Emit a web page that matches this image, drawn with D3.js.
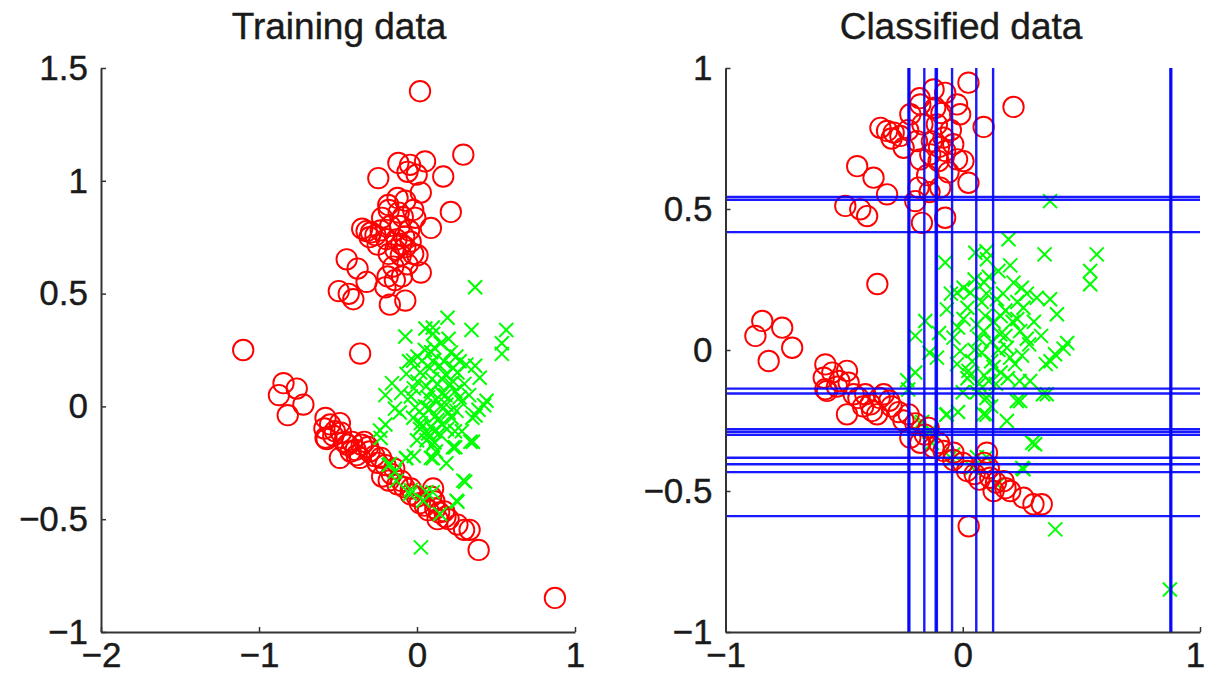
<!DOCTYPE html>
<html>
<head>
<meta charset="utf-8">
<script src="https://cdn.jsdelivr.net/npm/d3@7"></script>
<style>
  body { margin: 0; background: #fff; }
  svg { display: block; }
</style>
</head>
<body>
<svg id="chart" width="1206" height="684"></svg>
<script>
'use strict';

// training points, true class "red" (circles)
var redPts = [
  [0.019, 1.397], [0.293, 1.116], [-0.118, 1.079], [-0.044, 1.071], [0.051, 1.086],
  [-0.245, 1.012], [0.166, 1.019], [-0.06, 1.04], [-0.002, 1.027],
  [0.024, 0.948], [0.214, 0.862], [0.088, 0.791], [-0.123, 0.924], [-0.074, 0.912],
  [-0.179, 0.871], [-0.024, 0.871], [-0.011, 0.836], [-0.116, 0.859], [-0.347, 0.788],
  [-0.319, 0.777], [-0.291, 0.771], [-0.263, 0.759], [-0.249, 0.717], [-0.193, 0.741],
  [-0.081, 0.753], [-0.179, 0.676], [-0.137, 0.694], [-0.074, 0.706], [-0.024, 0.676],
  [0.003, 0.670], [-0.102, 0.670], [-0.445, 0.652], [-0.376, 0.611], [-0.319, 0.552],
  [0.024, 0.593], [-0.186, 0.576], [-0.095, 0.576], [-0.495, 0.511], [-0.432, 0.499],
  [-0.403, 0.475], [-0.172, 0.451], [-0.074, 0.469], [-0.2, 0.528], [-0.221, 0.836],
  [-0.109, 0.800], [-0.05, 0.78], [-0.15, 0.62], [-0.06, 0.63], [-0.13, 0.74],
  [-0.17, 0.80], [-0.09, 0.84], [-0.182, 0.893], [-0.3, 0.75], [-0.23, 0.78],
  [-0.1, 0.72], [-0.04, 0.73], [-0.14, 0.56],
  [-1.1, 0.25], [-0.36, 0.234],
  [-0.845, 0.103], [-0.874, 0.050], [-0.761, 0.079], [-0.719, 0.008], [-0.818, -0.039],
  [-0.579, -0.051], [-0.586, -0.098], [-0.579, -0.139], [-0.55, -0.08], [-0.488, -0.074],
  [-0.481, -0.116], [-0.52, -0.11], [-0.488, -0.228], [-0.411, -0.157], [-0.382, -0.216],
  [-0.35, -0.17], [-0.44, -0.17], [-0.572, -0.145], [-0.46, -0.157], [-0.389, -0.193],
  [-0.361, -0.228], [-0.333, -0.157], [-0.31, -0.18], [-0.228, -0.228], [-0.2, -0.26],
  [-0.221, -0.311], [-0.179, -0.329], [-0.144, -0.276], [-0.123, -0.346], [-0.081, -0.358],
  [-0.039, -0.364], [-0.04, -0.39], [0.018, -0.429], [0.102, -0.364], [0.09, -0.40],
  [0.116, -0.453], [0.130, -0.5], [0.172, -0.465], [0.18, -0.49], [0.256, -0.524],
  [0.298, -0.547], [0.333, -0.547], [0.07, -0.46], [-0.3, -0.2], [-0.25, -0.25],
  [-0.16, -0.3], [-0.1, -0.33], [0.0, -0.4], [0.05, -0.44], [0.11, -0.42],
  [0.14, -0.47], [0.2, -0.5], [-0.42, -0.2], [-0.53, -0.13], [-0.27, -0.22]
];

// training points, true class "green" (crosses)
var greenPts = [
  [0.368, 0.528], [0.193, 0.393], [0.345, 0.339], [0.565, 0.339], [0.537, 0.280],
  [0.537, 0.233], [-0.074, 0.310], [0.053, 0.345], [0.102, 0.322], [0.10, 0.35],
  [0.003, 0.221], [0.032, 0.203], [-0.024, 0.203], [0.214, 0.239], [0.249, 0.221],
  [0.27, 0.2], [0.312, 0.185], [0.368, 0.180], [0.397, 0.127], [0.256, 0.150],
  [0.23, 0.11], [0.144, 0.180], [0.095, 0.121], [0.06, 0.09], [0.003, 0.11],
  [-0.067, 0.144], [-0.158, 0.103], [-0.2, 0.05], [-0.109, -0.027], [-0.039, 0.044],
  [-0.011, -0.004], [-0.024, -0.05], [0.024, -0.074], [0.088, 0.067], [0.12, 0.03],
  [0.158, 0.056], [0.186, 0.008], [0.242, 0.067], [0.27, 0.04], [0.2, -0.027],
  [0.12, -0.04], [0.08, -0.01], [0.09, -0.09], [0.02, -0.1], [0.389, -0.015],
  [0.425, 0.005], [0.44, 0.025], [0.37, -0.04], [0.35, -0.05], [0.284, -0.11],
  [0.24, -0.11], [0.338, -0.157], [0.228, -0.181], [0.1, -0.17], [0.1, -0.23],
  [-0.02, -0.22], [-0.07, -0.23], [-0.2, -0.08], [-0.23, -0.14], [-0.14, -0.01],
  [-0.067, -0.228], [0.088, -0.228], [0.11, -0.16], [0.07, -0.12], [0.03, -0.09],
  [0.186, -0.252], [0.242, -0.181], [0.354, -0.157], [0.305, -0.334], [0.256, -0.423],
  [-0.18, -0.26], [-0.13, -0.33], [-0.04, -0.37], [0.1, -0.38],
  [-0.234, -0.107], [-0.171, -0.255], [-0.14, -0.29], [-0.044, -0.388], [0.04, -0.418],
  [0.06, -0.38], [0.146, -0.477], [0.251, -0.418], [0.293, -0.329],
  [0.05, 0.25], [0.15, 0.28], [0.18, 0.14], [0.1, 0.2], [0.13, 0.1],
  [0.05, 0.0], [0.16, -0.08], [0.22, -0.05], [0.3, 0.1], [0.06, -0.15],
  [0.14, -0.12], [-0.1, 0.06], [0.11, 0.26], [0.2, 0.3], [-0.05, 0.2],
  [0.02, 0.15], [0.17, 0.2], [0.08, 0.17], [0.28, 0.02], [0.12, -0.2],
  [0.15, 0.0], [0.19, -0.1], [0.07, 0.04], [0.13, -0.06], [0.21, 0.1],
  [0.04, -0.04], [0.16, 0.12], [0.25, -0.02], [0.09, 0.24], [-0.02, 0.08],
  [0.33, 0.05], [0.18, 0.05], [0.11, -0.11], [0.0, -0.15], [0.23, 0.17]
];

// points whose predicted class differs from the true one
var redAsGreen = [[0.873, -0.849], [0.39, -0.636]];
var greenAsRed = [[0.025, -0.625]];

// decision stump thresholds
var splitsX = [-0.229, -0.225, -0.162, -0.114, -0.109, -0.045, 0.057, 0.128, 0.875, 0.879];
var splitsY = [0.543, 0.533, 0.418, -0.137, -0.154, -0.281, -0.291, -0.301, -0.382, -0.405, -0.433, -0.589];

var trainXTicks = [-2, -1, 0, 1];
var trainYTicks = [-1, -0.5, 0, 0.5, 1, 1.5];
var classXTicks = [-1, 0, 1];
var classYTicks = [-1, -0.5, 0, 0.5, 1];

var svg = d3.select('#chart');
var fmt = d3.format('');
var plotTop = 68, plotBottom = 632;
var FONT = '"Liberation Sans", Arial, sans-serif';

function drawAxes(g, x, y, xt, yt) {
  var ax = g.append('g').attr('transform', 'translate(0,' + plotBottom + ')')
    .call(d3.axisBottom(x).tickValues(xt).tickFormat(fmt).tickSizeInner(-5).tickSizeOuter(0).tickPadding(10));
  var ay = g.append('g').attr('transform', 'translate(' + x.range()[0] + ',0)')
    .call(d3.axisLeft(y).tickValues(yt).tickFormat(fmt).tickSizeInner(-5).tickSizeOuter(0).tickPadding(13));
  [ax, ay].forEach(function (a) {
    a.attr('font-family', FONT).attr('font-size', 35);
    a.selectAll('text').attr('fill', '#1a1a1a').attr('stroke', '#1a1a1a').attr('stroke-width', 0.4);
    a.select('.domain').attr('stroke', '#333').attr('stroke-width', 2);
    a.selectAll('.tick line').attr('stroke', '#333').attr('stroke-width', 1.5);
  });
  // keep the last x label inside the page
  ax.selectAll('.tick text').filter(function (d) { return x(d) > 1190; }).attr('dx', -5);
}

function title(txt, cx) {
  svg.append('text').attr('x', cx).attr('y', 39).attr('text-anchor', 'middle')
    .attr('font-family', FONT).attr('font-size', 37)
    .attr('fill', '#1a1a1a').attr('stroke', '#1a1a1a').attr('stroke-width', 0.4).text(txt);
}

function circles(g, pts, x, y) {
  g.selectAll(null).data(pts).enter().append('circle')
    .attr('cx', function (d) { return x(d[0]); })
    .attr('cy', function (d) { return y(d[1]); })
    .attr('r', 10.2).attr('fill', 'none').attr('stroke', '#ff0000').attr('stroke-width', 1.9);
}

function crosses(g, pts, x, y) {
  var s = 7;
  g.selectAll(null).data(pts).enter().append('path')
    .attr('d', function (d) {
      var px = x(d[0]), py = y(d[1]);
      return 'M' + (px - s) + ',' + (py - s) + 'L' + (px + s) + ',' + (py + s) +
             'M' + (px - s) + ',' + (py + s) + 'L' + (px + s) + ',' + (py - s);
    })
    .attr('fill', 'none').attr('stroke', '#00ff00').attr('stroke-width', 2);
}

// ---- left: training data
var x1 = d3.scaleLinear().domain([-2, 1]).range([101, 575]);
var y1 = d3.scaleLinear().domain([-1, 1.5]).range([plotBottom, plotTop]);
var g1 = svg.append('g');
circles(g1, redPts.concat(redAsGreen), x1, y1);
crosses(g1, greenPts.concat(greenAsRed), x1, y1);
drawAxes(g1, x1, y1, trainXTicks, trainYTicks);
title('Training data', 339);

// ---- right: classified data
var x2 = d3.scaleLinear().domain([-1, 1]).range([725.5, 1200]);
var y2 = d3.scaleLinear().domain([-1, 1]).range([plotBottom, plotTop]);
var inside = function (d) { return d[0] >= -1 && d[0] <= 1 && d[1] >= -1 && d[1] <= 1; };
var g2 = svg.append('g');
crosses(g2, greenPts.concat(redAsGreen).filter(inside), x2, y2);
circles(g2, redPts.concat(greenAsRed).filter(inside), x2, y2);

g2.selectAll(null).data(splitsX).enter().append('line')
  .attr('x1', function (d) { return x2(d); }).attr('x2', function (d) { return x2(d); })
  .attr('y1', y2(1)).attr('y2', y2(-1))
  .attr('stroke', '#0000ff').attr('stroke-width', 2.4).attr('stroke-opacity', 0.9);
g2.selectAll(null).data(splitsY).enter().append('line')
  .attr('y1', function (d) { return y2(d); }).attr('y2', function (d) { return y2(d); })
  .attr('x1', x2(-1)).attr('x2', x2(1))
  .attr('stroke', '#0000ff').attr('stroke-width', 2.4).attr('stroke-opacity', 0.9);

drawAxes(g2, x2, y2, classXTicks, classYTicks);
title('Classified data', 961);
</script>
</body>
</html>
